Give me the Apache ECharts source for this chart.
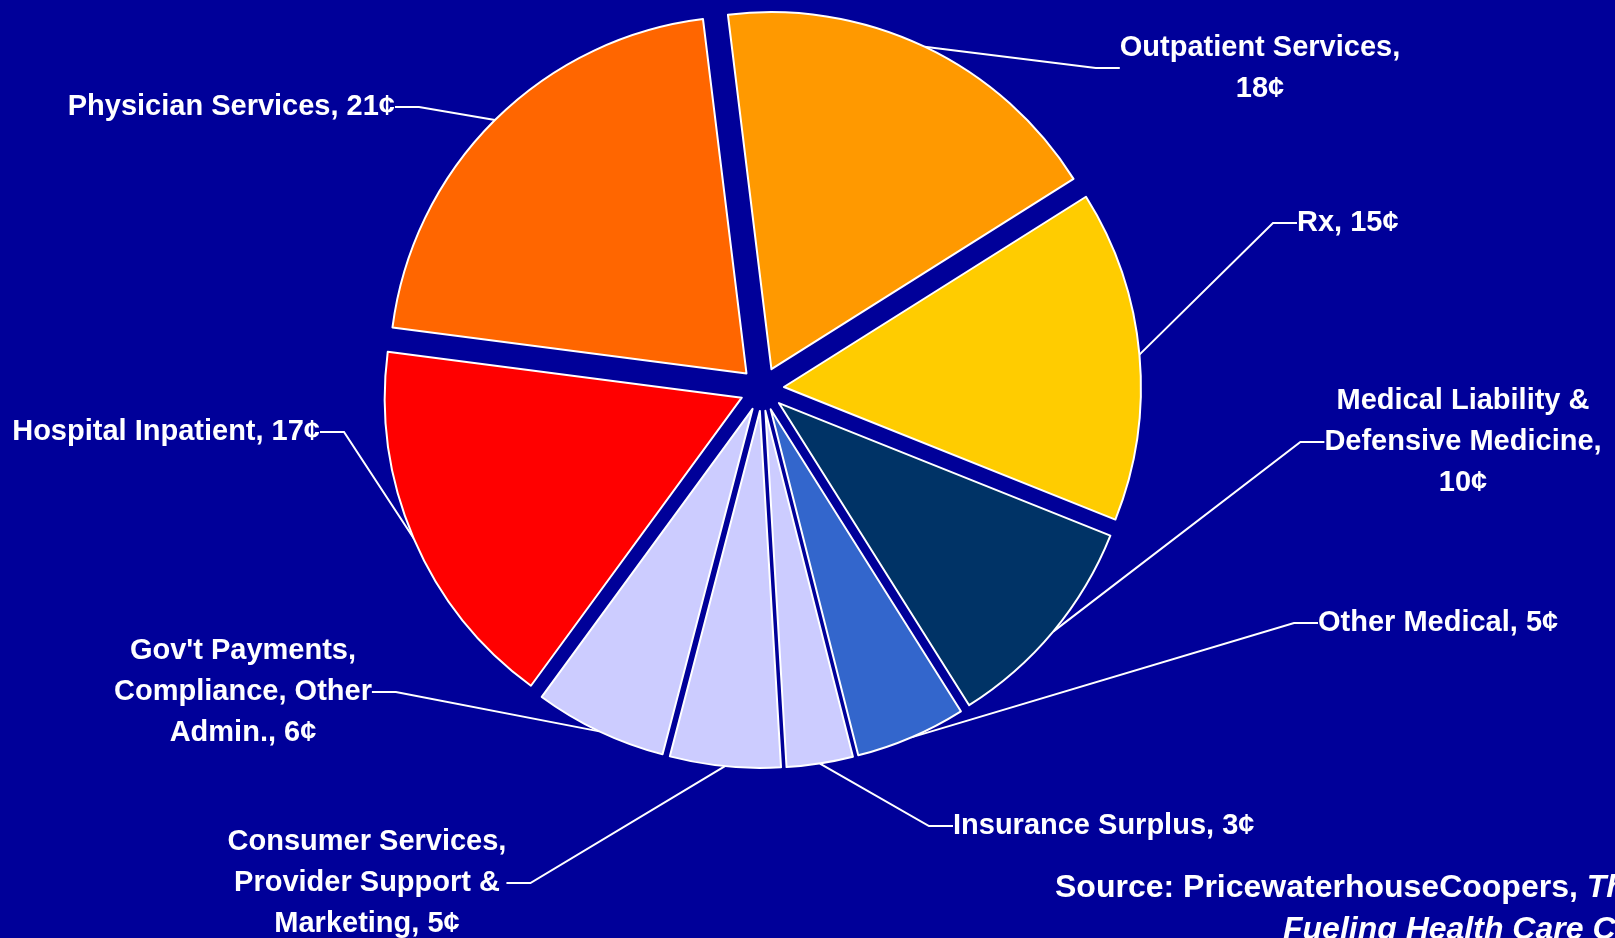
<!DOCTYPE html>
<html>
<head>
<meta charset="utf-8">
<title>Health care dollar</title>
<script src="https://cdn.jsdelivr.net/npm/echarts@6/dist/echarts.min.js"></script>
<style>
    html, body { margin: 0; padding: 0; background: #000099; }
    #chart { width: 1615px; height: 938px; }
</style>
</head>
<body>
<div id="chart"></div>
<script>
// slices, clockwise from the top
const categories = [
    'Outpatient Services', 'Rx', 'Medical Liability & Defensive Medicine',
    'Other Medical', 'Insurance Surplus', 'Consumer Services, Provider Support & Marketing',
    "Gov't Payments, Compliance, Other Admin.", 'Hospital Inpatient', 'Physician Services'
];
const cents = [18, 15, 10, 5, 3, 5, 6, 17, 21];
const labelTexts = [
    'Outpatient Services,\n18¢',
    'Rx, 15¢',
    'Medical Liability &\nDefensive Medicine,\n10¢',
    'Other Medical, 5¢',
    'Insurance Surplus, 3¢',
    'Consumer Services,\nProvider Support &\nMarketing, 5¢',
    "Gov't Payments,\nCompliance, Other\nAdmin., 6¢",
    'Hospital Inpatient, 17¢',
    'Physician Services, 21¢'
];
const colors = ['#FF9900', '#FFCC00', '#003366', '#3366CC', '#CCCCFF', '#CCCCFF', '#CCCCFF', '#FF0000', '#FF6600'];

// where each label sits (x, y, align)
const labelPos = [
    [1260, 68, 'center'],
    [1297, 223, 'left'],
    [1463, 442, 'center'],
    [1318, 623, 'left'],
    [953, 826, 'left'],
    [367, 883, 'center'],
    [243, 692, 'center'],
    [320, 432, 'right'],
    [395, 107, 'right']
];

const FONT = '"Liberation Sans", Arial, sans-serif';
const CX = 762, CY = 389, R = 357;
const START_ANGLE = 97;
const EXPLODE = 22;

let total = cents.reduce((a, b) => a + b, 0);

// one pie per slice so every slice can be pulled out along its own mid angle
let series = [];
let acc = 0;
for (let i = 0; i < cents.length; i++) {
    let mid = (acc + cents[i] / 2) / total;
    acc += cents[i];
    let ang = (START_ANGLE - mid * 360) * Math.PI / 180;
    let center = [CX + EXPLODE * Math.cos(ang), CY - EXPLODE * Math.sin(ang)];

    let data = categories.map((name, j) => {
        let own = j === i;
        return {
            name: name,
            value: cents[j],
            itemStyle: own
                ? {color: colors[j], borderColor: '#ffffff', borderWidth: 2}
                : {color: 'rgba(0,0,0,0)', borderWidth: 0},
            label: {show: own},
            labelLine: {show: own}
        };
    });

    series.push({
        type: 'pie',
        center: center,
        radius: R,
        startAngle: START_ANGLE,
        clockwise: true,
        avoidLabelOverlap: false,
        silent: true,
        label: {
            position: 'outside',
            color: '#ffffff',
            fontFamily: FONT,
            fontWeight: 'bold',
            fontSize: 29,
            lineHeight: 41,
            overflow: 'none',
            formatter: (p) => labelTexts[p.dataIndex]
        },
        labelLine: {
            length: 20,
            length2: 24,
            lineStyle: {color: '#ffffff', width: 2}
        },
        labelLayout: (p) => {
            let pos = labelPos[p.dataIndex];
            return {x: pos[0], y: pos[1], align: pos[2], verticalAlign: 'middle'};
        },
        emphasis: {disabled: true},
        data: data
    });
}

let myChart = echarts.init(document.getElementById('chart'), null, {renderer: 'canvas'});

let option = {
    backgroundColor: '#000099',
    animation: false,
    series: series,
    graphic: [{
        type: 'text',
        left: 1055,
        top: 872,
        style: {
            text: '{a|Source: PricewaterhouseCoopers, }{b|The Factors}',
            rich: {
                a: {fontFamily: FONT, fontWeight: 'bold', fontSize: 32, fill: '#ffffff'},
                b: {fontFamily: FONT, fontWeight: 'bold', fontStyle: 'italic', fontSize: 32, fill: '#ffffff'}
            }
        }
    }, {
        type: 'text',
        left: 1283,
        top: 914,
        style: {
            text: 'Fueling Health Care Costs',
            fontFamily: FONT,
            fontWeight: 'bold',
            fontStyle: 'italic',
            fontSize: 32,
            fill: '#ffffff'
        }
    }]
};

myChart.setOption(option);
</script>
</body>
</html>
